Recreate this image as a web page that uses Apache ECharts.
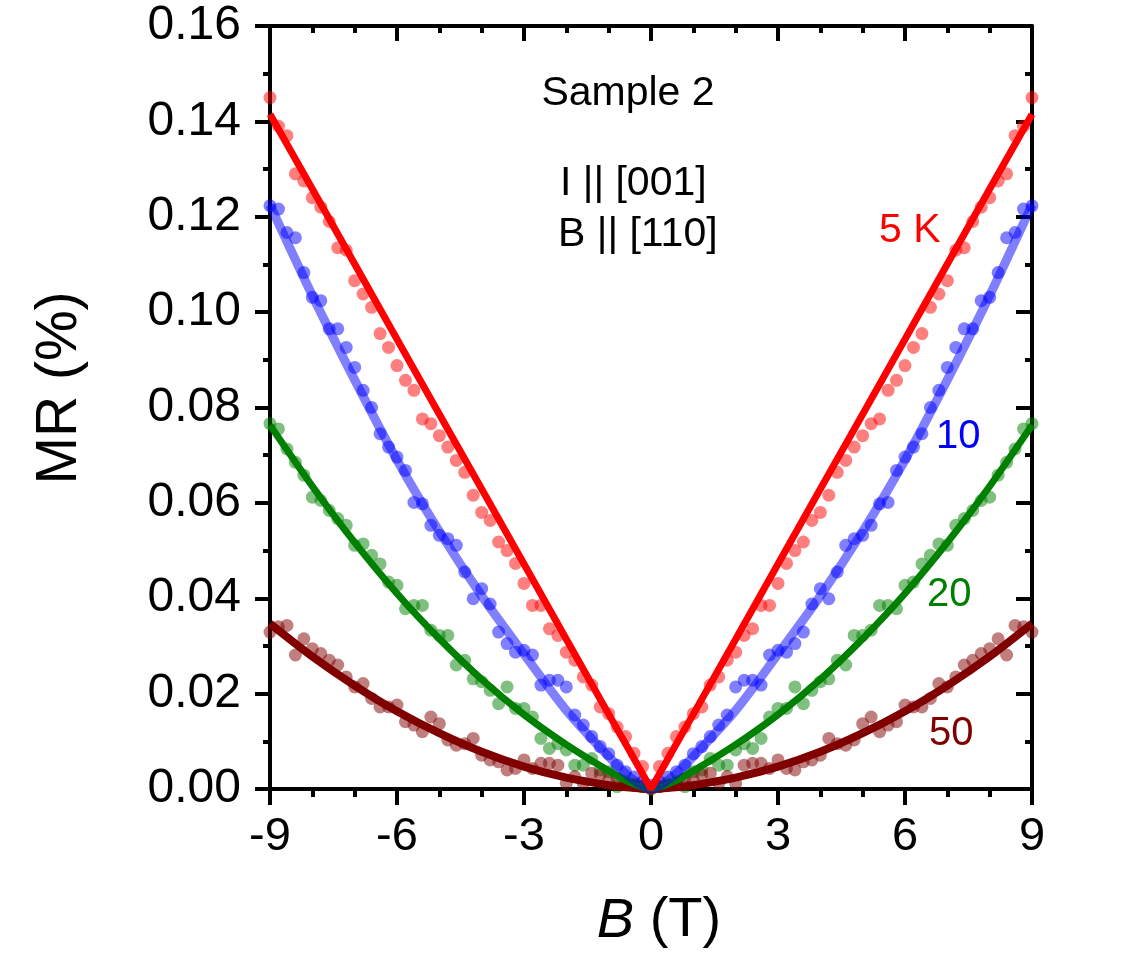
<!DOCTYPE html>
<html lang="en">
<head>
    <meta charset="UTF-8">
    <title>MR vs B</title>
    <script src="https://cdn.jsdelivr.net/npm/echarts@6/dist/echarts.min.js"></script>
    <style>
        body { margin: 0; background: #fff; }
        #chart { width: 1140px; height: 960px; }
    </style>
</head>
<body>
<div id="chart"></div>
<script>
    // field sweep (T), same grid for all temperatures
    var fieldB = [-9, -8.8, -8.6, -8.4, -8.2, -8, -7.8, -7.6, -7.4, -7.2, -7, -6.8, -6.6, -6.4, -6.2, -6, -5.8, -5.6, -5.4, -5.2,
        -5, -4.8, -4.6, -4.4, -4.2, -4, -3.8, -3.6, -3.4, -3.2, -3, -2.8, -2.6, -2.4, -2.2, -2, -1.8, -1.6, -1.4, -1.2,
        -1, -0.8, -0.6, -0.4, -0.2, 0, 0.2, 0.4, 0.6, 0.8, 1, 1.2, 1.4, 1.6, 1.8, 2, 2.2, 2.4, 2.6, 2.8,
        3, 3.2, 3.4, 3.6, 3.8, 4, 4.2, 4.4, 4.6, 4.8, 5, 5.2, 5.4, 5.6, 5.8, 6, 6.2, 6.4, 6.6, 6.8,
        7, 7.2, 7.4, 7.6, 7.8, 8, 8.2, 8.4, 8.6, 8.8, 9];

    // measured MR (%)
    var mr5K = [0.145, 0.139, 0.137, 0.129, 0.1275, 0.124, 0.122, 0.119, 0.1135, 0.113, 0.1066, 0.1038, 0.101, 0.0955, 0.0926,
        0.0888, 0.0857, 0.0836, 0.0776, 0.0766, 0.0741, 0.0717, 0.0689, 0.0664, 0.0616, 0.058, 0.0563, 0.0518, 0.050, 0.0473,
        0.0431, 0.0385, 0.0385, 0.0336, 0.0322, 0.0287, 0.027, 0.0235, 0.0218, 0.0172, 0.0158, 0.013, 0.011, 0.0075, 0.0047,
        0,
        0.0047, 0.0075, 0.011, 0.013, 0.0158, 0.0172, 0.0218, 0.0235, 0.027, 0.0287, 0.0322, 0.0336, 0.0385, 0.0385, 0.0431,
        0.0473, 0.050, 0.0518, 0.0563, 0.058, 0.0616, 0.0664, 0.0689, 0.0717, 0.0741, 0.0766, 0.0776, 0.0836, 0.0857, 0.0888,
        0.0926, 0.0955, 0.101, 0.1038, 0.1066, 0.113, 0.1135, 0.119, 0.122, 0.124, 0.1275, 0.129, 0.137, 0.139, 0.145];
    var mr10K = [0.1223, 0.1216, 0.1167, 0.1156, 0.1083, 0.1031, 0.1024, 0.0965, 0.0965, 0.0926, 0.0884, 0.0836, 0.080, 0.0745, 0.0717,
        0.0696, 0.0668, 0.0601, 0.0598, 0.0553, 0.0532, 0.0525, 0.0511, 0.0455, 0.0399, 0.042, 0.0388, 0.0329, 0.0305, 0.0287,
        0.0291, 0.0281, 0.0218, 0.0228, 0.0228, 0.0214, 0.0155, 0.0134, 0.011, 0.0089, 0.0074, 0.005, 0.0036, 0.0025, 0.0015,
        0.0008,
        0.0015, 0.0025, 0.0036, 0.005, 0.0074, 0.0089, 0.011, 0.0134, 0.0155, 0.0214, 0.0228, 0.0228, 0.0218, 0.0281, 0.0291,
        0.0287, 0.0305, 0.0329, 0.0388, 0.042, 0.0399, 0.0455, 0.0511, 0.0525, 0.0532, 0.0553, 0.0598, 0.0601, 0.0668, 0.0696,
        0.0717, 0.0745, 0.080, 0.0836, 0.0884, 0.0926, 0.0965, 0.0965, 0.1024, 0.1031, 0.1083, 0.1156, 0.1167, 0.1216, 0.1223];
    var mr20K = [0.0766, 0.0755, 0.0713, 0.0685, 0.0658, 0.0612, 0.0605, 0.0584, 0.0567, 0.0553, 0.0511, 0.0514, 0.049, 0.0472, 0.0434,
        0.0427, 0.0378, 0.0385, 0.0385, 0.0333, 0.0322, 0.0322, 0.026, 0.027, 0.0231, 0.0225, 0.0207, 0.0179, 0.0214, 0.0169,
        0.0169, 0.0151, 0.0106, 0.0085, 0.0095, 0.0082, 0.005, 0.005, 0.0064, 0.004, 0.0036, 0.0005, 0.0015, 0.001, 0.0005,
        0,
        0.0005, 0.001, 0.0015, 0.0005, 0.0036, 0.004, 0.0064, 0.005, 0.005, 0.0082, 0.0095, 0.0085, 0.0106, 0.0151, 0.0169,
        0.0169, 0.0214, 0.0179, 0.0207, 0.0225, 0.0231, 0.027, 0.026, 0.0322, 0.0322, 0.0333, 0.0385, 0.0385, 0.0378, 0.0427,
        0.0434, 0.0472, 0.049, 0.0514, 0.0511, 0.0553, 0.0567, 0.0584, 0.0605, 0.0612, 0.0658, 0.0685, 0.0713, 0.0755, 0.0766];
    var mr50K = [0.0329, 0.034, 0.0343, 0.0281, 0.0315, 0.0294, 0.0284, 0.027, 0.026, 0.0235, 0.0214, 0.0221, 0.019, 0.0172, 0.0172,
        0.0176, 0.0141, 0.0134, 0.012, 0.0151, 0.0137, 0.0103, 0.0092, 0.0095, 0.0106, 0.0071, 0.0061, 0.0057, 0.004, 0.0043,
        0.0061, 0.0043, 0.0054, 0.0054, 0.005, 0.0012, 0.0026, 0.0012, 0.0033, 0.003, 0.0019, 0.0022, 0.0012, 0.0008, 0.0005,
        0.0003,
        0.0005, 0.0008, 0.0012, 0.0022, 0.0019, 0.003, 0.0033, 0.0012, 0.0026, 0.0012, 0.005, 0.0054, 0.0054, 0.0043, 0.0061,
        0.0043, 0.004, 0.0057, 0.0061, 0.0071, 0.0106, 0.0095, 0.0092, 0.0103, 0.0137, 0.0151, 0.012, 0.0134, 0.0141, 0.0176,
        0.0172, 0.0172, 0.019, 0.0221, 0.0214, 0.0235, 0.026, 0.027, 0.0284, 0.0294, 0.0315, 0.0281, 0.0343, 0.034, 0.0329];

    // fit curves
    var fitB = [-9, -8, -7, -6, -5, -4, -3, -2, -1, -0.5, 0, 0.5, 1, 2, 3, 4, 5, 6, 7, 8, 9];
    var fit5K = [0.1415, 0.1258, 0.1101, 0.0943, 0.0786, 0.0629, 0.0472, 0.0314, 0.0157, 0.0079, 0,
        0.0079, 0.0157, 0.0314, 0.0472, 0.0629, 0.0786, 0.0943, 0.1101, 0.1258, 0.1415];
    var fit10K = [0.1225, 0.1035, 0.0858, 0.069, 0.054, 0.0405, 0.0283, 0.0165, 0.0068, 0.0025, 0,
        0.0025, 0.0068, 0.0165, 0.0283, 0.0405, 0.054, 0.069, 0.0858, 0.1035, 0.1225];
    var fit20K = [0.0763, 0.0635, 0.0517, 0.041, 0.0315, 0.023, 0.0156, 0.0093, 0.0038, 0.0014, 0,
        0.0014, 0.0038, 0.0093, 0.0156, 0.023, 0.0315, 0.041, 0.0517, 0.0635, 0.0763];
    var fit50K = [0.0347, 0.0278, 0.0217, 0.0163, 0.0117, 0.0078, 0.0047, 0.0024, 0.0008, 0.0003, 0,
        0.0003, 0.0008, 0.0024, 0.0047, 0.0078, 0.0117, 0.0163, 0.0217, 0.0278, 0.0347];

    var yTicks = [0, 0.16, 0.02];   // min, max, step
    var xTicks = [-9, 9, 3];

    var FONT = 'Arial, "Liberation Sans", sans-serif';

    function pairs(xs, ys) {
        return xs.map(function (x, i) { return [x, ys[i]]; });
    }

    function dots(name, color, ys) {
        return {
            name: name, type: 'scatter', data: pairs(fieldB, ys),
            symbol: 'circle', symbolSize: 13,
            itemStyle: {color: color, opacity: 0.5},
            emphasis: {disabled: true}, silent: true
        };
    }

    function fit(name, color, ys, width, opacity, smooth) {
        return {
            name: name, type: 'line', data: pairs(fitB, ys),
            showSymbol: false, smooth: smooth,
            lineStyle: {color: color, width: width, opacity: opacity},
            emphasis: {disabled: true}, silent: true
        };
    }

    var axisBase = function (pos, inside, majorLen, minorLen, split, showLabel) {
        return {
            type: 'value', position: pos,
            axisLine: {show: true, onZero: false, lineStyle: {color: '#000', width: 4}},
            axisTick: {show: true, inside: inside, length: majorLen, lineStyle: {color: '#000', width: 4}},
            minorTick: {show: true, splitNumber: split, length: minorLen, lineStyle: {color: '#000', width: 4}},
            splitLine: {show: false},
            minorSplitLine: {show: false},
            axisLabel: {show: showLabel}
        };
    };

    var xBottom = axisBase('bottom', false, 16, 8, 3, true);
    xBottom.axisLabel = {show: true, color: '#000', fontSize: 47, fontFamily: FONT, margin: 25,
        showMinLabel: true, showMaxLabel: true};
    var xTop = axisBase('top', true, 15, 7, 3, false);
    [xBottom, xTop].forEach(function (a) { a.min = xTicks[0]; a.max = xTicks[1]; a.interval = xTicks[2]; });

    var yLeft = axisBase('left', false, 15, 7, 2, true);
    yLeft.axisLabel = {show: true, color: '#000', fontSize: 48, fontFamily: FONT, margin: 29,
        showMinLabel: true, showMaxLabel: true,
        formatter: function (v) { return v.toFixed(2); }};
    var yRight = axisBase('right', true, 16, 7, 2, false);
    [yLeft, yRight].forEach(function (a) { a.min = yTicks[0]; a.max = yTicks[1]; a.interval = yTicks[2]; });

    var chart = echarts.init(document.getElementById('chart'));
    chart.setOption({
        animation: false,
        backgroundColor: '#fff',
        grid: {left: 270, right: 108, top: 26, bottom: 171, containLabel: false, outerBoundsMode: 'none'},
        xAxis: [xBottom, xTop],
        yAxis: [yLeft, yRight],
        series: [
            dots('5 K data', '#ff0000', mr5K),
            dots('10 K data', '#0000ff', mr10K),
            dots('20 K data', '#008000', mr20K),
            dots('50 K data', '#800000', mr50K),
            fit('50 K fit', '#800000', fit50K, 8, 1, 0.3),
            fit('20 K fit', '#008000', fit20K, 7, 1, 0.3),
            fit('10 K fit', '#0000ff', fit10K, 9, 0.5, 0.3),
            fit('5 K fit', '#ff0000', fit5K, 7, 1, false)
        ],
        graphic: [
            {type: 'text', x: 628, y: 94, z: 100,
                style: {text: 'Sample 2', fill: '#000', fontSize: 41, fontFamily: FONT, align: 'center', verticalAlign: 'middle'}},
            {type: 'text', x: 560, y: 184, z: 100,
                style: {text: 'I || [001]', fill: '#000', fontSize: 41, fontFamily: FONT, align: 'left', verticalAlign: 'middle'}},
            {type: 'text', x: 558, y: 235, z: 100,
                style: {text: 'B || [110]', fill: '#000', fontSize: 41, fontFamily: FONT, align: 'left', verticalAlign: 'middle'}},
            {type: 'text', x: 879, y: 231, z: 100,
                style: {text: '5 K', fill: '#ff0000', fontSize: 41, fontFamily: FONT, align: 'left', verticalAlign: 'middle'}},
            {type: 'text', x: 936, y: 437, z: 100,
                style: {text: '10', fill: '#0000ff', fontSize: 40, fontFamily: FONT, align: 'left', verticalAlign: 'middle'}},
            {type: 'text', x: 927, y: 595, z: 100,
                style: {text: '20', fill: '#008000', fontSize: 40, fontFamily: FONT, align: 'left', verticalAlign: 'middle'}},
            {type: 'text', x: 929, y: 734, z: 100,
                style: {text: '50', fill: '#800000', fontSize: 40, fontFamily: FONT, align: 'left', verticalAlign: 'middle'}},
            {type: 'text', x: 60, y: 388, rotation: Math.PI / 2, z: 100,
                style: {text: 'MR (%)', fill: '#000', fontSize: 57, fontFamily: FONT, align: 'center', verticalAlign: 'middle'}},
            {type: 'text', x: 659, y: 921, z: 100,
                style: {text: '{i|B} (T)', fill: '#000', fontSize: 56, fontFamily: FONT, align: 'center', verticalAlign: 'middle',
                    rich: {i: {fontStyle: 'italic', fontSize: 56, fontFamily: FONT, fill: '#000'}}}}
        ]
    });
</script>
</body>
</html>
